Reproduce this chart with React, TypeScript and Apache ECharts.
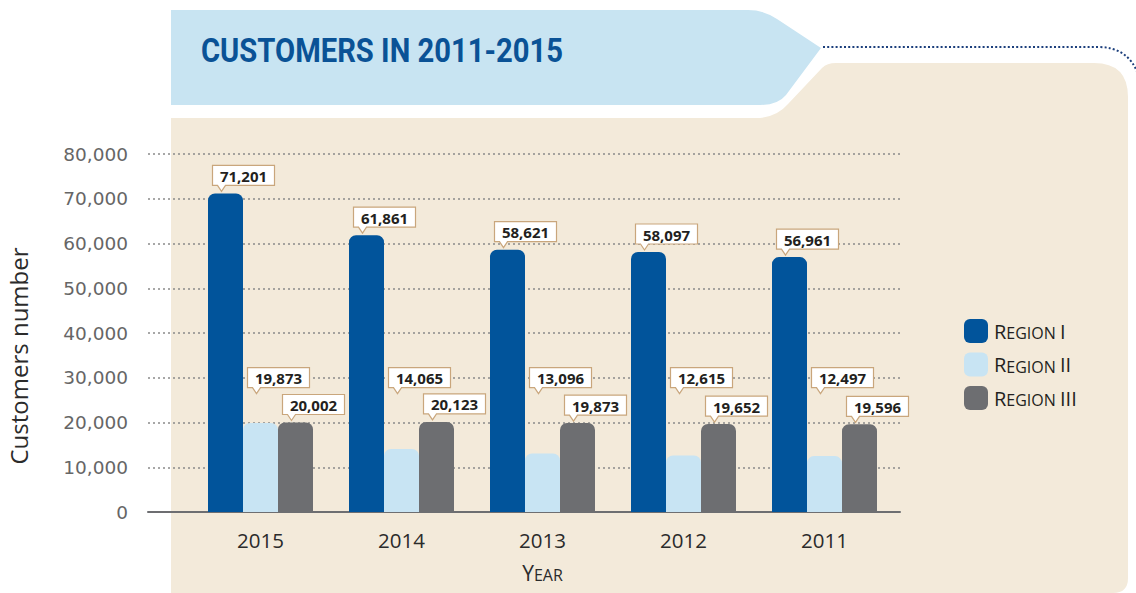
import React, { useEffect, useRef } from 'react';
import * as echarts from 'echarts';

const YEARS = ['2015', '2014', '2013', '2012', '2011'];
const REGION_I = [71201, 61861, 58621, 58097, 56961];
const REGION_II = [19873, 14065, 13096, 12615, 12497];
const REGION_III = [20002, 20123, 19873, 19652, 19596];
const SERIES_NAMES = ['Region I', 'Region II', 'Region III'];
const SERIES_VALUES = [REGION_I, REGION_II, REGION_III];
const SERIES_COLORS = ['#01549B', '#C8E4F3', '#6D6E71'];
const Y_MIN = 0;
const Y_MAX = 80000;
const Y_INTERVAL = 10000;
const TITLE = 'CUSTOMERS IN 2011-2015';
const Y_NAME = 'Customers number';
// level (in data units) at which Region II callouts are anchored so they clear the bars
const REGION_II_LABEL_LEVEL = 26000;

const BEIGE_D =
  'M171 118 L756 118 Q776 118 788 104 L822 68 Q827 63 836 63 L1094 63 Q1128 63 1128 97 L1128 578 Q1128 593 1113 593 L171 593 Z';
const BANNER_D =
  'M171 10 L748 10 Q764 10 777 19 L821 48 L786 95 Q778 105 760 105 L171 105 Z';
const DOT_D = 'M823 47 L1098 47 Q1128 47 1138 74';

echarts.graphic.registerShape('beigePanel', echarts.graphic.extendPath(BEIGE_D, {}) as any);
echarts.graphic.registerShape('titleBanner', echarts.graphic.extendPath(BANNER_D, {}) as any);
echarts.graphic.registerShape('dotLine', echarts.graphic.extendPath(DOT_D, {}) as any);

const fmt = (v: number) => v.toLocaleString('en-US');

const smallCaps = (name: string) => {
  const parts = name.split(' ');
  const w = parts[0];
  const rest = parts.slice(1).join(' ');
  return `{a|${w[0].toUpperCase()}}{b|${w.slice(1).toUpperCase()}}{s| }{a|${rest}}`;
};

const labelData: number[][] = [];
SERIES_VALUES.forEach((arr, s) => arr.forEach((v, i) => labelData.push([i, v, s])));

function buildOption(): any {
  const barSeries = SERIES_NAMES.map((name, s) => ({
    name,
    type: 'bar',
    xAxisIndex: 1,
    yAxisIndex: 1,
    data: SERIES_VALUES[s],
    barWidth: 35,
    barGap: '0%',
    itemStyle: { color: SERIES_COLORS[s], borderRadius: [7, 7, 0, 0] },
    z: 3,
  }));

  return {
    animation: false,
    backgroundColor: '#ffffff',
    graphic: [
      { type: 'beigePanel', x: 0, y: 0, z: -10, shape: {}, style: { fill: '#F3EADA' }, silent: true },
      { type: 'titleBanner', x: 0, y: 0, z: -10, shape: {}, style: { fill: '#C8E4F2' }, silent: true },
      {
        type: 'dotLine', x: 0, y: 0, z: -10, shape: {},
        style: { fill: null, stroke: '#1C3F7C', lineWidth: 2, lineDash: [2, 2.2] },
        silent: true,
      },
      {
        type: 'text', x: 201, y: 51, scaleX: 0.885, z: -5,
        style: {
          text: TITLE,
          fill: '#0A5296',
          font: 'bold 33px Roboto, "Open Sans", sans-serif',
          verticalAlign: 'middle',
          align: 'left',
        },
      },
      {
        type: 'text', x: 18, y: 356, rotation: Math.PI / 2, z: 5,
        style: {
          text: Y_NAME,
          fill: '#2b2b2b',
          font: '24px "Open Sans", sans-serif',
          align: 'center',
          verticalAlign: 'middle',
        },
      },
    ],
    legend: {
      data: SERIES_NAMES,
      orient: 'vertical',
      left: 959,
      top: 314,
      itemWidth: 24,
      itemHeight: 24,
      itemGap: 9.5,
      icon: 'roundRect',
      formatter: smallCaps,
      textStyle: {
        color: '#231F20',
        padding: [0, 0, 0, 1],
        rich: {
          a: { fontSize: 20, fontFamily: 'Open Sans', color: '#231F20', verticalAlign: 'bottom' },
          b: { fontSize: 16, fontFamily: 'Open Sans', color: '#231F20', verticalAlign: 'bottom' },
          s: { fontSize: 16, fontFamily: 'Open Sans', verticalAlign: 'bottom' },
        },
      },
    },
    grid: [
      { left: 148, right: 236, top: 154, bottom: 81 },
      { left: 190, right: 241, top: 154, bottom: 81 },
    ],
    xAxis: [
      {
        gridIndex: 0,
        type: 'value',
        min: 0,
        max: 1,
        axisLine: { show: true, onZero: false, lineStyle: { color: '#6D6E71', width: 2 } },
        axisTick: { show: false },
        axisLabel: { show: false },
        splitLine: { show: false },
      },
      {
        gridIndex: 1,
        type: 'category',
        data: YEARS,
        axisLine: { show: false },
        axisTick: { show: false },
        axisLabel: { fontSize: 20.5, fontFamily: 'Open Sans', color: '#2b2b2b', margin: 17 },
        name: '{a|Y}{b|EAR}',
        nameLocation: 'middle',
        nameGap: 50,
        nameTextStyle: {
          rich: {
            a: { fontSize: 21, fontFamily: 'Open Sans', color: '#2b2b2b', verticalAlign: 'bottom' },
            b: { fontSize: 16, fontFamily: 'Open Sans', color: '#2b2b2b', verticalAlign: 'bottom' },
          },
        },
      },
    ],
    yAxis: [
      {
        gridIndex: 0,
        type: 'value',
        min: Y_MIN,
        max: Y_MAX,
        interval: Y_INTERVAL,
        axisLine: { show: false },
        axisTick: { show: false },
        axisLabel: {
          fontSize: 18.5,
          fontFamily: 'DejaVu Sans',
          color: '#666666',
          margin: 20,
          formatter: (v: number) => fmt(v),
        },
        splitLine: { show: true, lineStyle: { type: [2, 3], color: '#8a8a8a', width: 1.5 } },
      },
      {
        gridIndex: 1,
        type: 'value',
        min: Y_MIN,
        max: Y_MAX,
        interval: Y_INTERVAL,
        show: false,
        splitLine: { show: false },
      },
    ],
    series: [
      ...barSeries,
      {
        type: 'custom',
        xAxisIndex: 1,
        yAxisIndex: 1,
        z: 10,
        silent: true,
        data: labelData,
        encode: { x: 0, y: 1 },
        renderItem: (params: any, api: any) => {
          const i = api.value(0);
          const v = api.value(1);
          const s = api.value(2);
          const anchor = s === 1 ? REGION_II_LABEL_LEVEL : v;
          const p = api.coord([i, anchor]);
          const cx = p[0] + (s - 1) * 35;
          const tipY = p[1] - 2;
          const w = 62;
          const h = 20;
          const left = cx - 13;
          const right = left + w;
          const bottom = tipY - 6;
          const top = bottom - h;
          return {
            type: 'group',
            children: [
              {
                type: 'polygon',
                shape: {
                  points: [
                    [left, top], [right, top], [right, bottom], [left + 13, bottom],
                    [left + 9, tipY], [left + 5, bottom], [left, bottom],
                  ],
                },
                style: { fill: '#ffffff', stroke: '#C9A67C', lineWidth: 1.2 },
              },
              {
                type: 'text',
                style: {
                  text: fmt(v),
                  x: left + w / 2,
                  y: (top + bottom) / 2 + 0.5,
                  align: 'center',
                  verticalAlign: 'middle',
                  font: 'bold 15px "Open Sans", sans-serif',
                  fill: '#231F20',
                },
              },
            ],
          };
        },
      },
    ],
  };
}

export default function App() {
  const ref = useRef<HTMLDivElement>(null);
  useEffect(() => {
    if (!ref.current) return;
    const chart = echarts.init(ref.current, null, { renderer: 'svg' });
    chart.setOption(buildOption());
    return () => chart.dispose();
  }, []);
  return (
    <div
      ref={ref}
      style={{ position: 'absolute', left: 0, top: 0, width: 1136, height: 593 }}
    />
  );
}
